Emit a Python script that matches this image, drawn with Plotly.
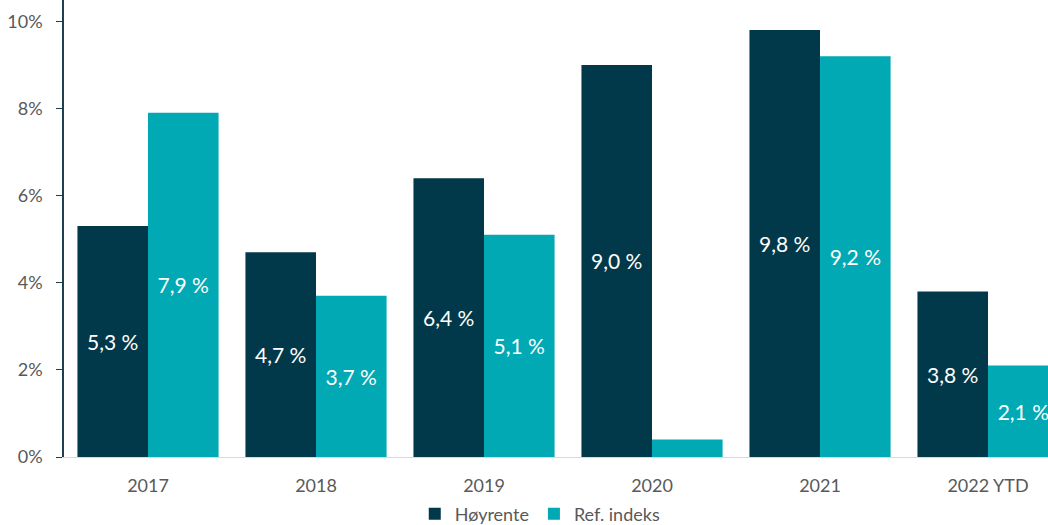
import plotly.graph_objects as go

categories = ["2017", "2018", "2019", "2020", "2021", "2022 YTD"]
hoyrente = [5.3, 4.7, 6.4, 9.0, 9.8, 3.8]
ref_indeks = [7.9, 3.7, 5.1, 0.4, 9.2, 2.1]
hoy_labels = ["5,3 %", "4,7 %", "6,4 %", "9,0 %", "9,8 %", "3,8 %"]
ref_labels = ["7,9 %", "3,7 %", "5,1 %", "", "9,2 %", "2,1 %"]
y_ticks = [0, 2, 4, 6, 8, 10]
y_ticktext = ["0%", "2%", "4%", "6%", "8%", "10%"]

DARK = "#02394A"
TEAL = "#00A9B4"
FONT = "Lato, 'Open Sans', sans-serif"

fig = go.Figure()
fig.add_trace(go.Bar(
    x=categories, y=hoyrente, name="Høyrente", marker_color=DARK,
    marker_line_width=0,
    text=hoy_labels, textposition="inside", insidetextanchor="middle",
    textfont=dict(color="white", size=21, family=FONT), constraintext="none",
    hoverinfo="skip", cliponaxis=False,
))
fig.add_trace(go.Bar(
    x=categories, y=ref_indeks, name="Ref. indeks", marker_color=TEAL,
    marker_line_width=0,
    text=ref_labels, textposition="inside", insidetextanchor="middle",
    textfont=dict(color="white", size=21, family=FONT), constraintext="none",
    hoverinfo="skip", cliponaxis=False,
))

fig.update_layout(
    width=1048, height=525,
    margin=dict(l=64, r=0, t=0, b=68, autoexpand=False),
    plot_bgcolor="white", paper_bgcolor="white",
    barmode="group", bargap=0.16, bargroupgap=0,
    font=dict(family=FONT, size=17, color="#595959"),
    showlegend=True,
    legend=dict(orientation="h", x=0.484, xanchor="center",
                yref="container", y=0.021, yanchor="middle",
                font=dict(size=18, color="#595959"), itemwidth=30),
)
fig.update_xaxes(
    range=[-0.5, 5.357], showgrid=False, showline=True, linecolor="#D9D9D9", linewidth=1,
    ticks="", ticklabelstandoff=12, tickfont=dict(size=18, color="#595959"),
)
fig.update_yaxes(
    range=[0, 10.49], tickvals=y_ticks, ticktext=y_ticktext, showgrid=False,
    showline=True, linecolor="#1E3F4E", linewidth=1.5, ticks="outside", ticklen=6,
    tickcolor="#1E3F4E", ticklabelstandoff=10, zeroline=False,
    tickfont=dict(size=18, color="#595959"),
)

fig.write_html(
    "out.html",
    config={"displayModeBar": False},
    post_script="document.body.style.margin='0';document.body.style.overflow='hidden';",
)
